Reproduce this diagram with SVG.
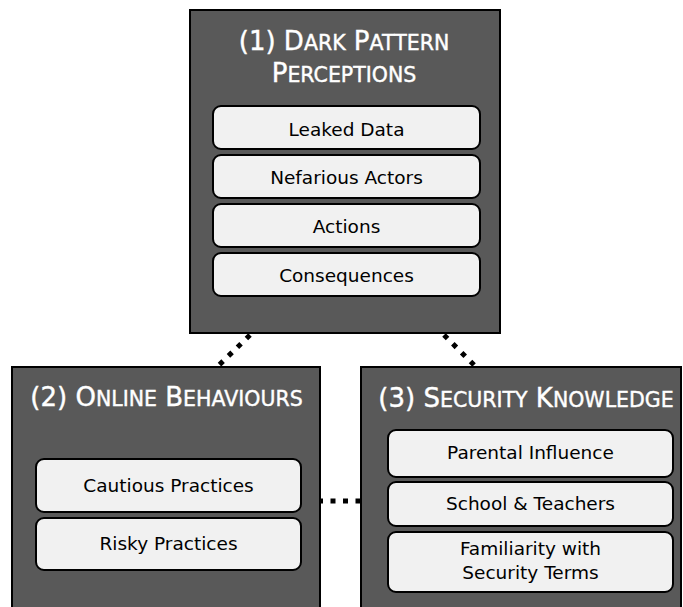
<svg xmlns="http://www.w3.org/2000/svg" width="683" height="607" viewBox="0 0 683 607">
<style>
.outer{fill:#595959;stroke:#000;stroke-width:2}
.inner{fill:#f1f1f1;stroke:#000;stroke-width:2}
.title{font-family:"DejaVu Sans",sans-serif;fill:#fff;text-anchor:middle;font-size:26px;stroke:#fff;stroke-width:0.4}
.sc{font-size:20.5px}
.lbl{font-family:"DejaVu Sans",sans-serif;fill:#000;text-anchor:middle;font-size:18.5px}
.conn{stroke:#000;stroke-width:5;stroke-dasharray:5 7.5;fill:none}
</style>
<rect width="683" height="607" fill="#fff"/>
<g id="connectors">
<line class="conn" x1="250" y1="335" x2="216" y2="368"/>
<line class="conn" x1="444" y1="335" x2="477" y2="368"/>
<line class="conn" x1="318" y1="501" x2="362" y2="501"/>
</g>
<g id="node1">
<rect class="outer" x="190" y="10" width="310" height="323"/>
<text class="title" x="344" y="50">(1) D<tspan class="sc">ARK</tspan> P<tspan class="sc">ATTERN</tspan></text>
<text class="title" x="344" y="82">P<tspan class="sc">ERCEPTIONS</tspan></text>
<rect class="inner" x="213" y="106" width="267" height="43" rx="8"/>
<text class="lbl" x="346.5" y="135.5">Leaked Data</text>
<rect class="inner" x="213" y="155" width="267" height="43" rx="8"/>
<text class="lbl" x="346.5" y="184">Nefarious Actors</text>
<rect class="inner" x="213" y="204" width="267" height="43" rx="8"/>
<text class="lbl" x="346.5" y="233">Actions</text>
<rect class="inner" x="213" y="253" width="267" height="43" rx="8"/>
<text class="lbl" x="346.5" y="282">Consequences</text>
</g>
<g id="node2">
<rect class="outer" x="12" y="367" width="308" height="260"/>
<text class="title" x="166.5" y="406">(2) O<tspan class="sc">NLINE</tspan> B<tspan class="sc">EHAVIOURS</tspan></text>
<rect class="inner" x="36" y="459" width="265" height="53" rx="8"/>
<text class="lbl" x="168.5" y="492">Cautious Practices</text>
<rect class="inner" x="36" y="518" width="265" height="52" rx="8"/>
<text class="lbl" x="168.5" y="550">Risky Practices</text>
</g>
<g id="node3">
<rect class="outer" x="361" y="367" width="320" height="260"/>
<text class="title" x="526" y="407">(3) S<tspan class="sc">ECURITY</tspan> K<tspan class="sc">NOWLEDGE</tspan></text>
<rect class="inner" x="388" y="430" width="285" height="47" rx="8"/>
<text class="lbl" x="530.5" y="459">Parental Influence</text>
<rect class="inner" x="388" y="482" width="285" height="44" rx="8"/>
<text class="lbl" x="530.5" y="510">School &amp; Teachers</text>
<rect class="inner" x="388" y="532" width="285" height="60" rx="8"/>
<text class="lbl" x="530.5" y="555">Familiarity with</text>
<text class="lbl" x="530.5" y="579">Security Terms</text>
</g>
</svg>
